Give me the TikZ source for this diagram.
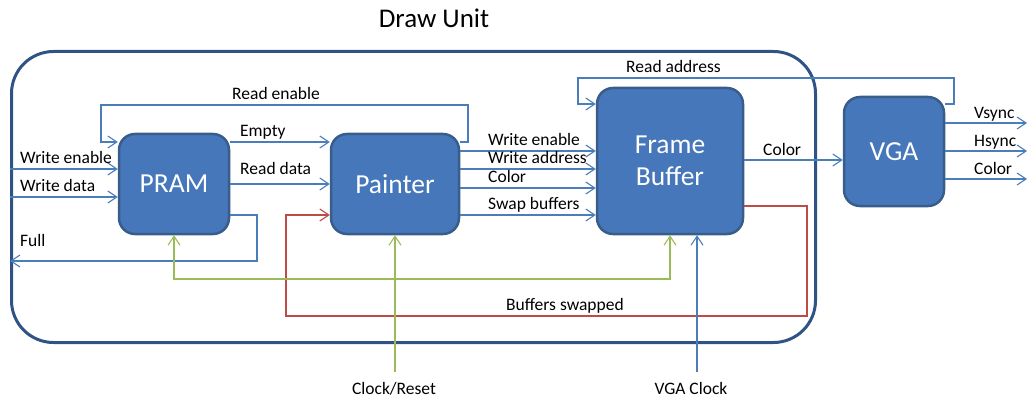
\documentclass[tikz,border=0pt]{standalone}
\usepackage{fontspec}
\setmainfont{Carlito}
\usetikzlibrary{arrows.meta,calc}
\definecolor{boxfill}{HTML}{4677BA}
\definecolor{boxline}{HTML}{385D8A}
\definecolor{unitline}{HTML}{2F5385}
\definecolor{sigblue}{HTML}{4A7EBB}
\definecolor{sigred}{HTML}{BE4B48}
\definecolor{siggreen}{HTML}{9BBB59}
\begin{document}
\begin{tikzpicture}[x=1pt,y=-1pt,
  block/.style={draw=boxline,line width=2.5pt,fill=boxfill,rounded corners=16pt,
    text=white,font=\fontsize{27.5}{32}\selectfont,inner sep=0pt,align=center},
  tipv/.tip={Straight Barb[length=9pt,width=12pt]},
  sig/.style={draw=sigblue,line width=1.1pt,-tipv},
  redsig/.style={draw=sigred,line width=1.1pt,-tipv},
  greensig/.style={draw=siggreen,line width=1.1pt},
  lbl/.style={font=\fontsize{17.5}{20}\selectfont,anchor=base west,inner sep=0pt},
  clbl/.style={font=\fontsize{17.5}{20}\selectfont,anchor=base,inner sep=0pt}]
\useasboundingbox (0,0) rectangle (1033,409);
% title and unit frame
\node[font=\fontsize{27}{32}\selectfont,inner sep=0pt] (title) at (434,18) {Draw Unit};
\node[draw=unitline,line width=3pt,rounded corners=42pt,minimum width=804pt,minimum height=291pt,inner sep=0pt] (unit) at (413.5,197) {};
% blocks
\node[block,minimum width=110pt,minimum height=100pt] (pram) at (174,184) {PRAM};
\node[block,minimum width=128pt,minimum height=100pt] (painter) at (395,184) {Painter};
\node[block,minimum width=146pt,minimum height=146pt] (fb) at (670,161) {Frame\\Buffer};
\node[block,minimum width=100pt,minimum height=109pt] (vga) at (894,151.5) {VGA};
% free ends
\coordinate (win) at (10,169);
\coordinate (wdin) at (10,197);
\coordinate (fullout) at (10,261);
\coordinate (vsout) at (1027,123);
\coordinate (hsout) at (1027,151);
\coordinate (colout) at (1027,179);
\coordinate (clk) at (395,372);
\coordinate (vclk) at (697,372);
% PRAM inputs
\draw[sig] (win) -- (win -| pram.west);
\draw[sig] (wdin) -- (wdin -| pram.west);
\node[lbl] at (20,163) {Write enable};
\node[lbl] at (20,191.5) {Write data};
% read enable loop
\draw[sig] (painter.east |- 0,142) -- (468,142) -- (468,105) -- (101,105) -- (101,142) -- (pram.west |- 0,142);
\node[lbl] at (232,100) {Read enable};
% Empty / Read data
\draw[sig] (pram.east |- 0,142) -- (painter.west |- 0,142);
\node[lbl] at (240,137) {Empty};
\draw[sig] (pram.east) -- (painter.west);
\node[lbl] at (240,174) {Read data};
% Full
\draw[sig] (pram.east |- 0,215) -- (257,215) -- (257,261) -- (fullout);
\node[lbl] at (20,246.5) {Full};
% Painter -> Frame buffer
\draw[sig] (painter.east |- 0,151) -- (fb.west |- 0,151);
\draw[sig] (painter.east |- 0,169) -- (fb.west |- 0,169);
\draw[sig] (painter.east |- 0,188) -- (fb.west |- 0,188);
\draw[sig] (painter.east |- 0,215) -- (fb.west |- 0,215);
\node[lbl] at (488,146) {Write enable};
\node[lbl] at (488,163.3) {Write address};
\node[lbl] at (488,182.3) {Color};
\node[lbl] at (488,209.3) {Swap buffers};
% Read address
\draw[sig] (vga.east |- 0,104) -- (954,104) -- (954,78) -- (578,78) -- (578,104) -- (fb.west |- 0,104);
\node[lbl] at (626,72.7) {Read address};
% Color FB -> VGA
\draw[sig] (fb.east |- 0,160) -- (vga.west |- 0,160);
\node[lbl] at (763,155) {Color};
% VGA outputs
\draw[sig] (vga.east |- vsout) -- (vsout);
\draw[sig] (vga.east |- hsout) -- (hsout);
\draw[sig] (vga.east |- colout) -- (colout);
\node[lbl] at (974,119) {Vsync};
\node[lbl] at (974,146.7) {Hsync};
\node[lbl] at (974,174) {Color};
% Buffers swapped
\draw[redsig] (fb.east |- 0,206) -- (807,206) -- (807,316) -- (286,316) -- (286,215) -- (painter.west |- 0,215);
\node[lbl] at (506,310.7) {Buffers swapped};
% clock / reset
\draw[greensig,-tipv] (clk) -- (painter.south);
\draw[greensig,tipv-tipv] (pram.south) -- (pram.south |- 0,279) -- (fb.south |- 0,279) -- (fb.south);
\node[clbl] at (394,394.3) {Clock/Reset};
% VGA clock
\draw[sig] (vclk) -- (vclk |- fb.south);
\node[clbl] at (691,394.3) {VGA Clock};
\end{tikzpicture}
\end{document}
